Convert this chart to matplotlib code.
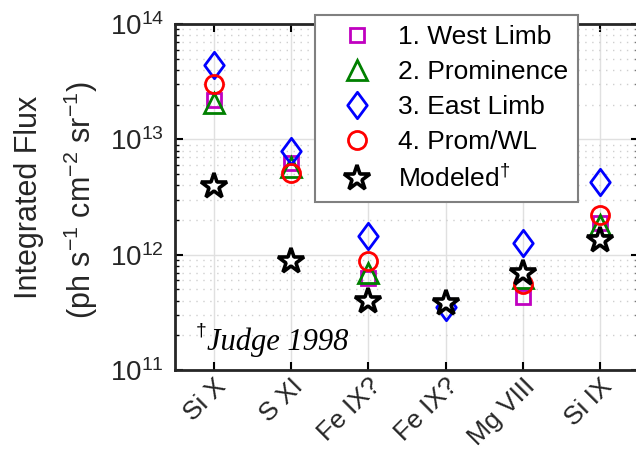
import numpy as np
import matplotlib
matplotlib.use("Agg")
import matplotlib.pyplot as plt
from matplotlib.path import Path
from matplotlib.ticker import LogLocator, NullFormatter

plt.rcParams['font.family'] = ['Liberation Sans', 'DejaVu Sans']
plt.rcParams['mathtext.fontset'] = 'custom'
plt.rcParams['mathtext.rm'] = 'Liberation Sans'
plt.rcParams['mathtext.it'] = 'Liberation Sans:italic'
plt.rcParams['mathtext.bf'] = 'Liberation Sans:bold'

lines_lbl = ['Si X', 'S XI', 'Fe IX?', 'Fe IX?', 'Mg VIII', 'Si IX']
nan = np.nan
west_limb  = [2.2e13, 6.2e12, 6.3e11, nan, 4.3e11, 1.87e12]
prominence = [2.05e13, 5.7e12, 6.9e11, nan, 6.3e11, 1.8e12]
east_limb  = [4.4e13, 7.9e12, 1.44e12, 3.5e11, 1.26e12, 4.3e12]
prom_wl    = [3.0e13, 5.1e12, 8.9e11, nan, 5.6e11, 2.2e12]
modeled    = [3.9e12, 8.9e11, 4.0e11, 3.8e11, 6.9e11, 1.35e12]

x = np.arange(1, len(lines_lbl) + 1)

fig = plt.figure(figsize=(6.36, 4.67), dpi=100)
ax = fig.add_axes([175/636, 97/467, 464/636, 346/467])

diamond = Path([(0, 1), (0.74, 0), (0, -1), (-0.74, 0), (0, 1)],
               [Path.MOVETO, Path.LINETO, Path.LINETO, Path.LINETO, Path.CLOSEPOLY])

mew = 2.0
ax.plot(x, west_limb, ls='none', marker='s', ms=10.5, mfc='none', mec='#c000c0', mew=mew,
        label='1. West Limb', zorder=3)
ax.plot(x, prominence, ls='none', marker='^', ms=15, mfc='none', mec='#008000', mew=mew,
        label='2. Prominence', zorder=3)
ax.plot(x, east_limb, ls='none', marker=diamond, ms=19, mfc='none', mec='#0000ff', mew=mew,
        label='3. East Limb', zorder=3)
ax.plot(x, prom_wl, ls='none', marker='o', ms=13, mfc='none', mec='#ff0000', mew=mew,
        label='4. Prom/WL', zorder=3)
ax.plot(x, modeled, ls='none', marker='*', ms=19, mfc='white', mec='black', mew=2.6,
        label=r'Modeled$^{\dagger}$', zorder=4)

ax.set_yscale('log')
ax.set_ylim(1e11, 1e14)
ax.set_xlim(0.5, 6.5)
ax.set_xticks(x)
ax.set_xticklabels(lines_lbl, rotation=45, ha='right', va='top', rotation_mode='anchor',
                   fontsize=19)
ax.yaxis.set_major_locator(LogLocator(base=10, numticks=10))
ax.yaxis.set_minor_locator(LogLocator(base=10, subs=np.arange(2, 10), numticks=20))
ax.yaxis.set_minor_formatter(NullFormatter())
ax.tick_params(axis='y', which='major', labelsize=20, direction='in', length=6, width=1.5,
               right=True, pad=8, labelcolor='#262626')
ax.tick_params(axis='y', which='minor', direction='in', length=3, width=1, right=True)
ax.tick_params(axis='x', which='major', direction='in', length=6, width=1.5, top=True, pad=3,
               labelcolor='#262626')

ax.grid(True, which='major', color='#e0e0e0', lw=1, ls='-', zorder=0)
ax.grid(True, which='minor', axis='y', color='#cfcfcf', lw=1, ls=(0, (1, 4)), zorder=0)
ax.set_axisbelow(True)
for s in ax.spines.values():
    s.set_linewidth(2)
    s.set_color('#262626')

fig.text(29/636, 1 - 197/467, 'Integrated Flux', rotation=90, ha='center', va='center',
         fontsize=22, color='#262626')
fig.text(81/636, 1 - 200/467, r'(ph s$^{\mathdefault{-1}}$ cm$^{\mathdefault{-2}}$ sr$^{\mathdefault{-1}}$)',
         rotation=90, ha='center', va='center', fontsize=22, color='#262626')

ax.text(0.045, 0.101, '†', transform=ax.transAxes, fontsize=14, ha='left', va='baseline')
ax.text(0.069, 0.058, 'Judge 1998', transform=ax.transAxes, fontsize=22, ha='left',
        va='baseline', family='Liberation Serif', style='italic')

leg = ax.legend(loc='upper left', bbox_to_anchor=(315/636, 1 - 15/467),
                bbox_transform=fig.transFigure, fontsize=19, frameon=True, fancybox=False,
                edgecolor='#808080', framealpha=1, handlelength=2.4, handletextpad=0.35,
                labelspacing=0.42, borderpad=0.38, borderaxespad=0)
leg.get_frame().set_linewidth(1.5)
leg.set_zorder(10)

fig.savefig('out.png', dpi=100)
